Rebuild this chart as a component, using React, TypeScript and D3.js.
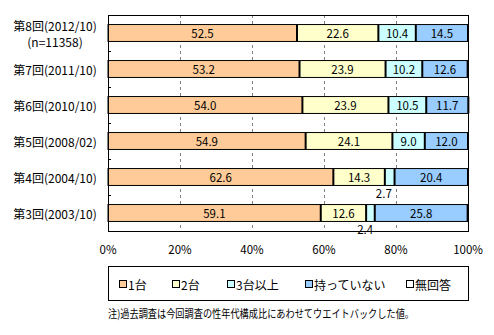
import React from "react";
import * as d3 from "d3";

const categories = ["第8回(2012/10)", "第7回(2011/10)", "第6回(2010/10)", "第5回(2008/02)", "第4回(2004/10)", "第3回(2003/10)"];
const subLabels = ["(n=11358)", "", "", "", "", ""];
const seriesNames = ["1台", "2台", "3台以上", "持っていない", "無回答"];
const colors = ["#FFCC99", "#FFFFCC", "#CCFFFF", "#99CCFF", "#FFFFFF"];
const one = [52.5, 53.2, 54.0, 54.9, 62.6, 59.1];
const two = [22.6, 23.9, 23.9, 24.1, 14.3, 12.6];
const three = [10.4, 10.2, 10.5, 9.0, 2.7, 2.4];
const none = [14.5, 12.6, 11.7, 12.0, 20.4, 25.8];
const noAnswer = [0, 0, 0, 0, 0, 0.1];
const xTicks = [0, 20, 40, 60, 80, 100];
const note = "注)過去調査は今回調査の性年代構成比にあわせてウエイトバックした値。";

const FONT = "'Noto Sans CJK JP', sans-serif";

export default function App() {
  const W = 494, H = 335;
  const left = 108, right = 468, top = 15, bottom = 231;
  const x = d3.scaleLinear().domain([0, 100]).range([left, right]);
  const y = d3.scaleBand<number>().domain(d3.range(categories.length)).range([top, bottom]).paddingInner(0.53).paddingOuter(0.265);
  const series = [one, two, three, none, noAnswer];
  const stack = categories.map((_, i) => {
    let acc = 0;
    return series.map((s, k) => {
      const start = acc;
      acc += s[i];
      return { k, start, end: acc, v: s[i] };
    });
  });
  const bh = y.bandwidth();
  const legendX = [123, 176, 231, 309, 410];
  return (
    <svg width={W} height={H} style={{ position: "absolute", left: 0, top: 0 }} fontFamily={FONT}>
      <rect x={0} y={0} width={W} height={H} fill="#fff" />
      {xTicks.slice(1, -1).map((t) => (
        <line key={t} x1={Math.round(x(t)) + 0.5} x2={Math.round(x(t)) + 0.5} y1={top} y2={bottom} stroke="#808080" strokeDasharray="3,3" />
      ))}
      {stack.map((segs, i) => {
        const y0 = y(i)!;
        return (
          <g key={i}>
            {segs.filter((s) => s.v > 0).map((s) => (
              <rect key={s.k} x={x(s.start)} y={y0} width={x(s.end) - x(s.start)} height={bh} fill={colors[s.k]} />
            ))}
            <rect x={left} y={y0} width={x(segs[segs.length - 1].end) - left} height={bh} fill="none" stroke="#000" strokeWidth={1} />
            {segs.slice(0, -1).filter((s) => s.v > 0).map((s) => (
              <line key={s.k} x1={x(s.end)} x2={x(s.end)} y1={y0} y2={y0 + bh} stroke="#000" strokeWidth={2} />
            ))}
            {segs.filter((s) => s.v > 0 && s.k < 4).map((s) => {
              const small = s.v < 5;
              return (
                <text key={s.k} x={small ? x(s.start) - 1 : (x(s.start) + x(s.end)) / 2} y={small ? y0 + bh + 8 : y0 + bh / 2} textAnchor="middle" dominantBaseline="central" fontSize={11.5} fill="#000">
                  {s.v.toFixed(1)}
                </text>
              );
            })}
            {subLabels[i] ? (
              <>
                <text x={55} y={y0 + bh / 2 - 8} textAnchor="middle" dominantBaseline="central" fontSize={12}>{categories[i]}</text>
                <text x={55} y={y0 + bh / 2 + 8} textAnchor="middle" dominantBaseline="central" fontSize={12}>{subLabels[i]}</text>
              </>
            ) : (
              <text x={55} y={y0 + bh / 2} textAnchor="middle" dominantBaseline="central" fontSize={12}>{categories[i]}</text>
            )}
          </g>
        );
      })}
      {d3.range(1, categories.length).map((i) => {
        const yy = Math.round(top + (i * (bottom - top)) / categories.length) + 0.5;
        return <line key={i} x1={left} x2={left + 3} y1={yy} y2={yy} stroke="#000" />;
      })}
      <rect x={left + 0.5} y={top + 0.5} width={right - left} height={bottom - top} fill="none" stroke="#000" />
      {xTicks.map((t) => (
        <text key={t} x={x(t)} y={249} textAnchor="middle" dominantBaseline="central" fontSize={11.5}>{t}%</text>
      ))}
      <rect x={left + 0.5} y={266.5} width={right - left} height={34} fill="none" stroke="#000" />
      {seriesNames.map((n, k) => (
        <g key={n}>
          <rect x={legendX[k] - 3.5} y={280.5} width={7} height={7} fill={colors[k]} stroke="#000" />
          <text x={legendX[k] + 5} y={284} dominantBaseline="central" fontSize={12}>{n}</text>
        </g>
      ))}
      <text x={left} y={313} dominantBaseline="central" fontSize={11} textLength={306} lengthAdjust="spacingAndGlyphs">{note}</text>
    </svg>
  );
}
